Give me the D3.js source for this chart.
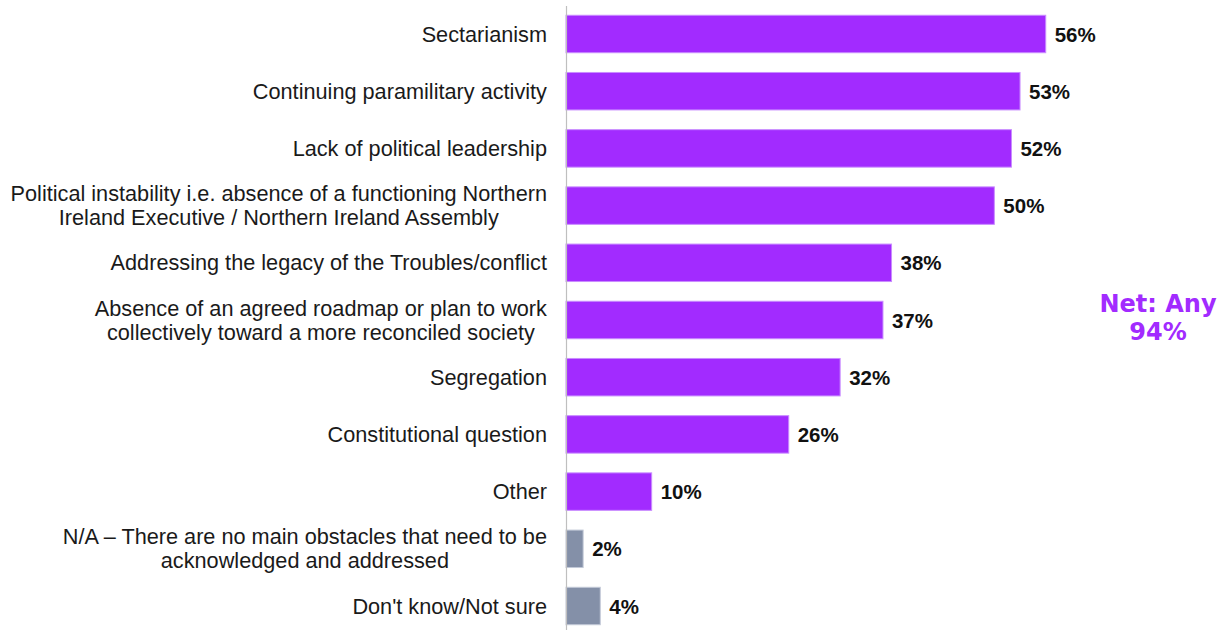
<!DOCTYPE html>
<html>
<head>
<meta charset="utf-8">
<script src="https://cdn.jsdelivr.net/npm/d3@7"></script>
<style>
  body { margin: 0; background: #fff; }
  svg { display: block; }
</style>
</head>
<body>
<div id="chart"></div>
<script>
const width = 1218;
const height = 630;

// data
const categories = [
  "Sectarianism",
  "Continuing paramilitary activity",
  "Lack of political leadership",
  "Political instability i.e. absence of a functioning Northern\nIreland Executive / Northern Ireland Assembly",
  "Addressing the legacy of the Troubles/conflict",
  "Absence of an agreed roadmap or plan to work\ncollectively toward a more reconciled society",
  "Segregation",
  "Constitutional question",
  "Other",
  "N/A \u2013 There are no main obstacles that need to be\nacknowledged and addressed",
  "Don't know/Not sure",
];
const values = [56, 53, 52, 50, 38, 37, 32, 26, 10, 2, 4];
const neutral = [false, false, false, false, false, false, false, false, false, true, true];
const netLabel = ["Net: Any", "94%"];

const purple = "#a22bff";
const grey = "#8490a8";

const data = categories.map((c, i) => ({ cat: c, value: values[i], neutral: neutral[i] }));

const svg = d3
  .select("#chart")
  .append("svg")
  .attr("width", width)
  .attr("height", height);

const x = d3.scaleLinear().domain([0, 60]).range([566, 1080]);

const y = d3
  .scaleBand()
  .domain(categories)
  .range([5.4, 634.6])
  .paddingInner(0.345)
  .paddingOuter(0.1725);

// bars
svg
  .selectAll("rect.bar")
  .data(data)
  .enter()
  .append("rect")
  .attr("class", "bar")
  .attr("x", x(0))
  .attr("y", (d) => y(d.cat))
  .attr("width", (d) => x(d.value) - x(0))
  .attr("height", y.bandwidth())
  .attr("fill", (d) => (d.neutral ? grey : purple))
  .attr("stroke", (d) => (d.neutral ? "#c3cad8" : "#c98dff"))
  .attr("stroke-width", 1);

// category axis
const axis = svg
  .append("g")
  .attr("transform", `translate(${x(0)},0)`)
  .call(d3.axisLeft(y).tickSize(0).tickPadding(19));

axis.select(".domain").attr("stroke", "#bfbfbf").attr("stroke-width", 1.2);

const lineH = 24;
axis
  .selectAll(".tick text")
  .attr("font-family", "Liberation Sans, Arial, sans-serif")
  .attr("font-size", 21.7)
  .attr("fill", "#1a1a1a")
  .attr("text-anchor", "middle")
  .each(function (d) {
    const lines = d.split("\n");
    const t = d3.select(this);
    t.text(null);
    const off = -((lines.length - 1) * lineH) / 2;
    lines.forEach((ln, i) => {
      t.append("tspan")
        .attr("x", 0)
        .attr("dy", i === 0 ? off + 7.5 : lineH)
        .text(ln);
    });
    t.attr("dy", null);
  });

// center the lines of each block, block right edge at the tick padding
axis.selectAll(".tick text").each(function () {
  const w = this.getBBox().width;
  d3.select(this).selectAll("tspan").attr("x", -19 - w / 2);
});

// value labels
svg
  .selectAll("text.val")
  .data(data)
  .enter()
  .append("text")
  .attr("class", "val")
  .attr("x", (d) => x(d.value) + 9)
  .attr("y", (d) => y(d.cat) + y.bandwidth() / 2 + 7.5)
  .attr("font-family", "Liberation Sans, Arial, sans-serif")
  .attr("font-weight", "bold")
  .attr("font-size", 20.5)
  .attr("fill", "#111")
  .text((d) => d.value + "%");

// net annotation
svg
  .append("text")
  .attr("x", 1158)
  .attr("y", 312)
  .attr("text-anchor", "middle")
  .attr("font-family", "DejaVu Sans, Verdana, sans-serif")
  .attr("font-weight", "bold")
  .attr("font-size", 24)
  .attr("fill", purple)
  .selectAll("tspan")
  .data(netLabel)
  .enter()
  .append("tspan")
  .attr("x", 1158)
  .attr("dy", (d, i) => (i === 0 ? 0 : 28))
  .text((d) => d);
</script>
</body>
</html>
